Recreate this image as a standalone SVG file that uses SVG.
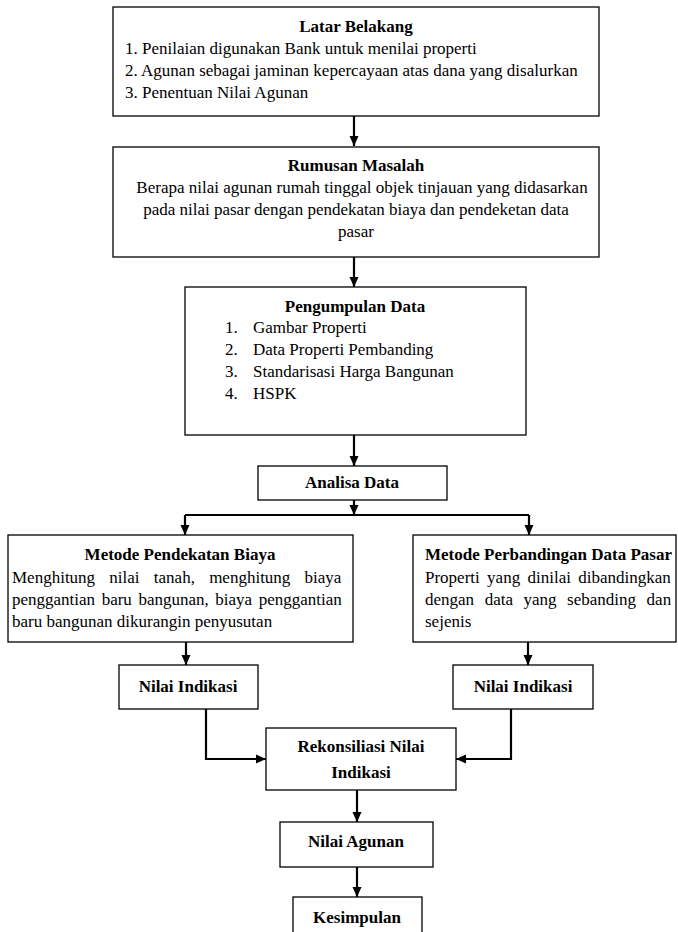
<svg xmlns="http://www.w3.org/2000/svg" width="678" height="932" viewBox="0 0 678 932">
<defs>
<style>
.box{fill:#fff;stroke:#000;stroke-width:1.3}
.t{font-family:'Liberation Serif',Tinos,'DejaVu Serif',serif;font-size:17px;fill:#000}
.b{font-weight:bold}
.c{text-anchor:middle}
.con{fill:none;stroke:#000;stroke-width:2.2}
</style>
<marker id="ah" viewBox="0 0 10 10" refX="10" refY="5" markerWidth="10" markerHeight="10" markerUnits="userSpaceOnUse" orient="auto"><path d="M0,0.5 L10,5 L0,9.5 z" fill="#000"/></marker>
</defs>
<rect width="678" height="932" fill="#fff"/>
<g id="latar-belakang">
<rect class="box" x="113" y="7" width="486" height="109"/>
<text class="t b c" x="356" y="32">Latar Belakang</text>
<text class="t" x="125" y="54">1. Penilaian digunakan Bank untuk menilai properti</text>
<text class="t" x="125" y="76">2. Agunan sebagai jaminan kepercayaan atas dana yang disalurkan</text>
<text class="t" x="125" y="98">3. Penentuan Nilai Agunan</text>
</g>
<g id="rumusan-masalah">
<rect class="box" x="113" y="147" width="486" height="110"/>
<text class="t b c" x="356" y="171">Rumusan Masalah</text>
<text class="t c" x="362" y="193">Berapa nilai agunan rumah tinggal objek tinjauan yang didasarkan</text>
<text class="t c" x="356" y="215">pada nilai pasar dengan pendekatan biaya dan pendeketan data</text>
<text class="t c" x="356" y="237">pasar</text>
</g>
<g id="pengumpulan-data">
<rect class="box" x="185" y="287" width="341" height="148"/>
<text class="t b c" x="355" y="312">Pengumpulan Data</text>
<text class="t" x="225" y="333">1.</text><text class="t" x="253" y="333">Gambar Properti</text>
<text class="t" x="225" y="355">2.</text><text class="t" x="253" y="355">Data Properti Pembanding</text>
<text class="t" x="225" y="377">3.</text><text class="t" x="253" y="377">Standarisasi Harga Bangunan</text>
<text class="t" x="225" y="399">4.</text><text class="t" x="253" y="399">HSPK</text>
</g>
<g id="analisa-data">
<rect class="box" x="258" y="466" width="189" height="34"/>
<text class="t b c" x="352" y="488">Analisa Data</text>
</g>
<g id="metode-biaya">
<rect class="box" x="8" y="535" width="345" height="107"/>
<text class="t b c" x="180" y="560">Metode Pendekatan Biaya</text>
<text class="t" x="12" y="583" word-spacing="10">Menghitung nilai tanah, menghitung biaya</text>
<text class="t" x="12" y="605" word-spacing="2.3">penggantian baru bangunan, biaya penggantian</text>
<text class="t" x="12" y="627">baru bangunan dikurangin penyusutan</text>
</g>
<g id="metode-pasar">
<rect class="box" x="413" y="535" width="263" height="107"/>
<text class="t b" x="425" y="560">Metode Perbandingan Data Pasar</text>
<text class="t" x="425" y="583" word-spacing="3.1">Properti yang dinilai dibandingkan</text>
<text class="t" x="425" y="605" word-spacing="6.3">dengan data yang sebanding dan</text>
<text class="t" x="425" y="627">sejenis</text>
</g>
<g id="nilai-indikasi-1">
<rect class="box" x="119" y="665" width="139" height="44"/>
<text class="t b c" x="188" y="692">Nilai Indikasi</text>
</g>
<g id="nilai-indikasi-2">
<rect class="box" x="453" y="665" width="140" height="44"/>
<text class="t b c" x="523" y="692">Nilai Indikasi</text>
</g>
<g id="rekonsiliasi">
<rect class="box" x="266" y="728" width="190" height="62"/>
<text class="t b c" x="361" y="752">Rekonsiliasi Nilai</text>
<text class="t b c" x="361" y="778">Indikasi</text>
</g>
<g id="nilai-agunan">
<rect class="box" x="280" y="822" width="153" height="45"/>
<text class="t b c" x="356" y="847">Nilai Agunan</text>
</g>
<g id="kesimpulan">
<rect class="box" x="293" y="897" width="129" height="45"/>
<text class="t b c" x="357" y="923">Kesimpulan</text>
</g>
<g id="connectors">
<path class="con" d="M354,116 V146" marker-end="url(#ah)"/>
<path class="con" d="M354,257 V287" marker-end="url(#ah)"/>
<path class="con" d="M354,435 V466" marker-end="url(#ah)"/>
<path class="con" d="M354,500 V515" marker-end="url(#ah)"/>
<path class="con" d="M185,515 H529"/>
<path class="con" d="M185,515 V535" marker-end="url(#ah)"/>
<path class="con" d="M529,515 V535" marker-end="url(#ah)"/>
<path class="con" d="M186,642 V665" marker-end="url(#ah)"/>
<path class="con" d="M528,642 V665" marker-end="url(#ah)"/>
<path class="con" d="M206,709 V759 H266" marker-end="url(#ah)"/>
<path class="con" d="M511,709 V759 H456" marker-end="url(#ah)"/>
<path class="con" d="M357,790 V822" marker-end="url(#ah)"/>
<path class="con" d="M357,867 V897" marker-end="url(#ah)"/>
</g>
</svg>
